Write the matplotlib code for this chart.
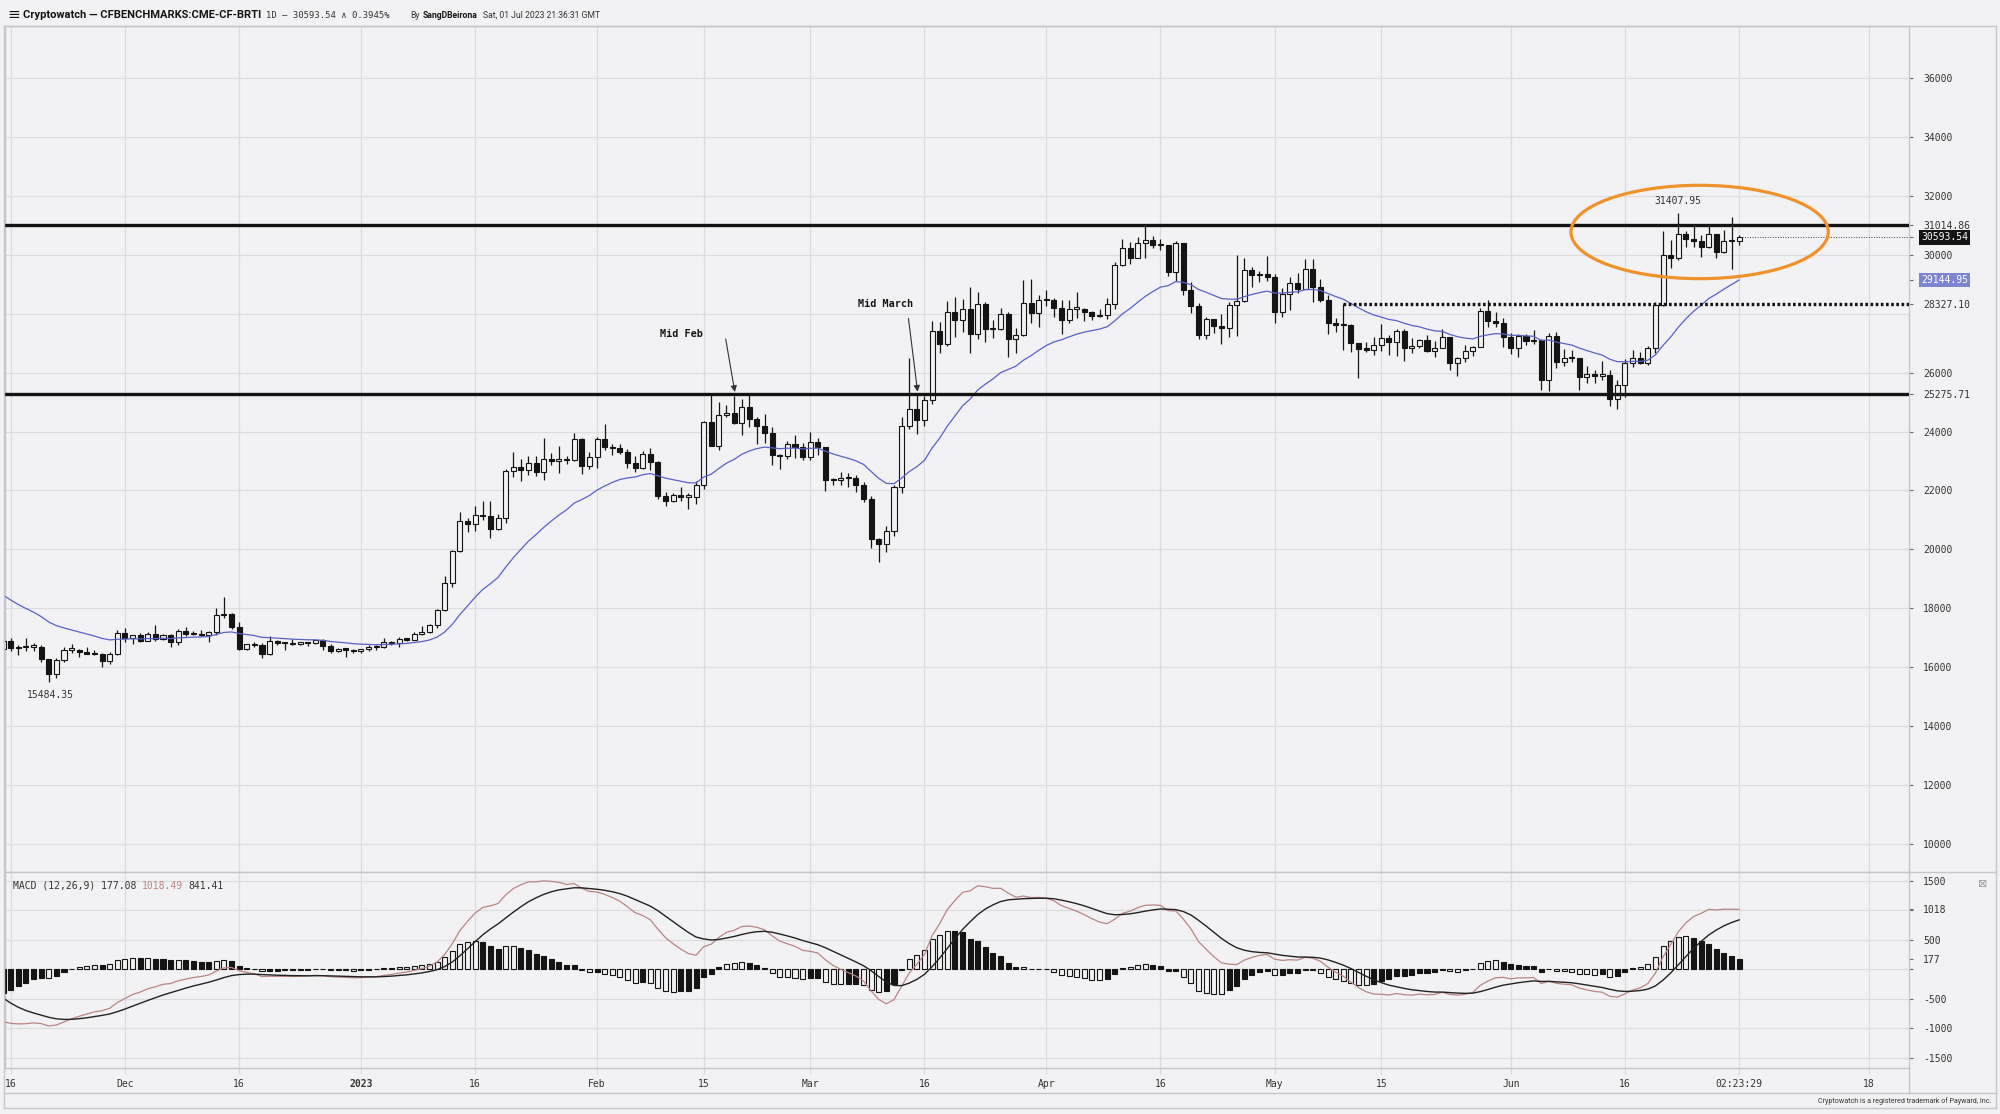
import numpy as np
import pandas as pd
import matplotlib
matplotlib.use('Agg')
import matplotlib.pyplot as plt
import matplotlib.transforms as mtransforms
from matplotlib.patches import Ellipse
from matplotlib.lines import Line2D

first_day = '2022-11-15'
last_day = '2023-07-01'

# daily candles, one row per month (Nov 15 .. Jul 1)
open_p = [
	16620, 16900, 16660, 16690, 16700, 16700, 16280, 15780, 16230, 16600, 16600, 16520, 16460, 16440, 16220, 16440,
	17160, 16980, 17090, 16890, 17110, 16970, 17090, 16840, 17230, 17130, 17130, 17090, 17210, 17780, 17810, 17360,
	16630, 16780, 16740, 16440, 16900, 16830, 16820, 16780, 16840, 16830, 16920, 16710, 16540, 16630, 16600,
	16540, 16620, 16680, 16670, 16850, 16830, 16950, 16940, 17120, 17180, 17440, 17940, 18850, 19930, 20950, 20870,
	21180, 21140, 20680, 21070, 22670, 22780, 22710, 22920, 22630, 23060, 23010, 23080, 23030, 23740, 22840,
	23130, 23730, 23490, 23430, 23320, 22930, 22760, 23250, 22960, 21800, 21630, 21860, 21790, 21790, 22200, 24330,
	23520, 24570, 24630, 24280, 24840, 24440, 24190, 23950, 23200, 23160, 23560, 23490,
	23130, 23650, 23470, 22360, 22350, 22430, 22410, 22200, 21720, 20360, 20190, 20630, 22130, 24200, 24750, 24380,
	25060, 27420, 26970, 28040, 27770, 28170, 27310, 28330, 27490, 27490, 28000, 27140, 27270, 28350, 28030,
	28480, 28470, 28200, 27800, 28170, 28170, 28040, 27920, 27950, 28330, 29650, 30240, 29890, 30400, 30490, 30320,
	30320, 29430, 30390, 28820, 28250, 27270, 27820, 27590, 27520, 28300, 28420, 29470, 29320, 29340,
	29230, 28070, 28670, 29030, 28850, 29530, 28900, 28450, 27690, 27630, 27620, 26990, 26800, 26780, 26930, 27190,
	27030, 27400, 26830, 26890, 27110, 26750, 26850, 27220, 26330, 26480, 26720, 26870, 28080, 27750, 27700,
	27220, 26820, 27250, 27070, 27120, 25760, 27240, 26350, 26500, 26480, 25850, 25940, 25900, 25920, 25120, 25580,
	26330, 26510, 26340, 26840, 28310, 30000, 29890, 30690, 30550, 30470, 30270, 30690, 30080, 30450,
	30480,
]
high_p = [
	17130, 17000, 16750, 17000, 16820, 16750, 16290, 16300, 16680, 16800, 16620, 16680, 16600, 16480, 16530, 17250,
	17320, 17100, 17160, 17200, 17420, 17110, 17140, 17300, 17360, 17230, 17260, 17240, 18000, 18390, 17850, 17530,
	16800, 16860, 16810, 17050, 16910, 16860, 16950, 16860, 16860, 16940, 16960, 16780, 16650, 16640, 16630,
	16630, 16770, 16760, 17000, 16880, 17040, 16960, 17180, 17390, 17480, 17990, 19100, 19990, 21260, 21050, 21460,
	21630, 21650, 21190, 22740, 23320, 23060, 23160, 23170, 23780, 23260, 23500, 23160, 23950, 23790, 23300,
	23800, 24250, 23590, 23570, 23420, 23160, 23350, 23450, 23000, 21950, 21900, 22100, 21900, 22310, 24370, 25250,
	24990, 24890, 25190, 25120, 25270, 24480, 24600, 24140, 23220, 23670, 23880, 23600,
	23980, 23780, 23480, 22420, 22620, 22580, 22540, 22270, 21820, 20370, 20790, 22180, 24500, 26500, 25270, 25200,
	27750, 27730, 28430, 28550, 28500, 28900, 28750, 28400, 27800, 28180, 28040, 27500, 29150, 29170, 28640,
	28800, 28530, 28480, 28450, 28750, 28180, 28100, 28170, 28530, 29770, 30550, 30420, 30600, 31000, 30620, 30550,
	30320, 30480, 30410, 29070, 28370, 27880, 27820, 28000, 28400, 30000, 29880, 29570, 29450, 29950,
	29330, 28880, 29260, 29370, 29840, 29840, 29180, 28650, 27840, 28327.10, 27640, 27000, 27050, 27200, 27660, 27260,
	27480, 27480, 27170, 27150, 27280, 27060, 27490, 27220, 26530, 26930, 26900, 28200, 28450, 28050, 27840,
	27340, 27300, 27300, 27450, 27140, 27360, 27380, 26800, 26780, 26500, 26210, 26080, 26400, 26080, 25750, 26460,
	26780, 26690, 26890, 28400, 30800, 30500, 31407.95, 30800, 31050, 30660, 31000, 30700, 30850, 31280,
	30660,
]
low_p = [
	16550, 16550, 16410, 16560, 16560, 16180, 15484.35, 15620, 16170, 16470, 16350, 16460, 16400, 16000, 16100, 16430,
	16870, 16790, 16870, 16880, 16880, 16910, 16690, 16740, 17070, 17090, 17070, 16870, 17080, 17660, 17280, 16580,
	16590, 16680, 16300, 16400, 16740, 16570, 16760, 16770, 16730, 16790, 16600, 16470, 16500, 16340, 16490,
	16490, 16550, 16600, 16660, 16750, 16680, 16900, 16910, 17100, 17150, 17320, 17910, 18720, 19900, 20600, 20620,
	20980, 20400, 20670, 20880, 22440, 22320, 22520, 22480, 22340, 22850, 22580, 22890, 23000, 22560, 22720,
	22770, 23380, 23200, 23250, 22760, 22630, 22740, 22680, 21700, 21460, 21600, 21630, 21370, 21530, 22050, 23520,
	23360, 24480, 24250, 23880, 24170, 23580, 23620, 22860, 22740, 23080, 23100, 23030,
	23050, 23210, 21980, 22180, 22200, 22100, 21930, 21600, 20050, 19570, 19900, 20440, 21900, 24100, 23900, 24200,
	24940, 26660, 26900, 27200, 27370, 26660, 27150, 27030, 27180, 27450, 26540, 26680, 27250, 27700, 27560,
	28250, 27880, 27300, 27680, 27840, 27760, 27800, 27880, 27820, 28170, 29620, 29700, 29880, 29900, 30220, 30170,
	29270, 29100, 28650, 28020, 27140, 27130, 27350, 26970, 27200, 27250, 28380, 28900, 29080, 29100,
	27670, 27900, 28130, 28690, 28840, 28400, 28380, 27320, 27380, 26780, 26710, 25800, 26700, 26600, 26730, 26600,
	26580, 26400, 26660, 26840, 26690, 26540, 26830, 26100, 25870, 26350, 26550, 26860, 27550, 27550, 26880,
	26620, 26520, 26920, 26960, 25420, 25370, 26140, 26230, 26350, 25400, 25650, 25650, 25750, 24850, 24780, 25170,
	26180, 26290, 26260, 26670, 28270, 29560, 29810, 30280, 30270, 29940, 30220, 29880, 30050, 29500,
	30330,
]
close_p = [
	16900, 16660, 16690, 16700, 16700, 16280, 15780, 16230, 16600, 16600, 16520, 16460, 16440, 16220, 16440, 17160,
	16980, 17090, 16890, 17110, 16970, 17090, 16840, 17230, 17130, 17130, 17090, 17210, 17780, 17810, 17360, 16630,
	16780, 16740, 16440, 16900, 16830, 16820, 16780, 16840, 16830, 16920, 16710, 16540, 16630, 16600, 16540,
	16620, 16680, 16670, 16850, 16830, 16950, 16940, 17120, 17180, 17440, 17940, 18850, 19930, 20950, 20870, 21180,
	21140, 20680, 21070, 22670, 22780, 22710, 22920, 22630, 23060, 23010, 23080, 23030, 23740, 22840, 23130,
	23730, 23490, 23430, 23320, 22930, 22760, 23250, 22960, 21800, 21630, 21860, 21790, 21790, 22200, 24330, 23520,
	24570, 24630, 24280, 24840, 24440, 24190, 23950, 23200, 23160, 23560, 23490, 23130,
	23650, 23470, 22360, 22350, 22430, 22410, 22200, 21720, 20360, 20190, 20630, 22130, 24200, 24750, 24380, 25060,
	27420, 26970, 28040, 27770, 28170, 27310, 28330, 27490, 27490, 28000, 27140, 27270, 28350, 28030, 28480,
	28470, 28200, 27800, 28170, 28170, 28040, 27920, 27950, 28330, 29650, 30240, 29890, 30400, 30490, 30320, 30320,
	29430, 30390, 28820, 28250, 27270, 27820, 27590, 27520, 28300, 28420, 29470, 29320, 29340, 29230,
	28070, 28670, 29030, 28850, 29530, 28900, 28450, 27690, 27630, 27620, 26990, 26800, 26780, 26930, 27190, 27030,
	27400, 26830, 26890, 27110, 26750, 26850, 27220, 26330, 26480, 26720, 26870, 28080, 27750, 27700, 27220,
	26820, 27250, 27070, 27120, 25760, 27240, 26350, 26500, 26480, 25850, 25940, 25900, 25920, 25120, 25580, 26330,
	26510, 26340, 26840, 28310, 30000, 29890, 30690, 30550, 30470, 30270, 30690, 30080, 30450, 30480,
	30593.54,
]

# indicator values at the first visible candle
ema20_start = 18450
ema12_start = 17835
ema26_start = 18720
signal_start = -483

resistance = 31014.86
support = 25275.71
breakout = 28327.10
breakout_from = '2023-05-10'
last_close = 30593.54
ema_last = 29144.95
range_high = 31407.95
range_low = 15484.35

tick_dates = ['2022-11-16', '2022-12-01', '2022-12-16', '2023-01-01', '2023-01-16', '2023-02-01', '2023-02-15',
			  '2023-03-01', '2023-03-16', '2023-04-01', '2023-04-16', '2023-05-01', '2023-05-15', '2023-06-01',
			  '2023-06-16', '2023-07-01', '2023-07-18']
tick_names = ['16', 'Dec', '16', '2023', '16', 'Feb', '15', 'Mar', '16', 'Apr', '16', 'May', '15', 'Jun', '16',
			  '02:23:29', '18']

price_grid = list(range(10000, 36001, 2000))
price_ticks = [10000, 12000, 14000, 16000, 18000, 20000, 22000, 24000, 26000, 30000, 32000, 34000, 36000]
macd_grid = [1500, 1000, 500, 0, -500, -1000, -1500]
macd_ticks = [1500, 1018.49, 1000, 500, 177.08, 0, -500, -1000, -1500]
macd_names = ['1500', '1018', '', '500', '177', '', '-500', '-1000', '-1500']

BG = '#f2f2f4'
GRID = '#dcdcdf'
EDGE = '#c6c6ca'
INK = '#141414'
BLUE = '#5861c6'
ROSE = '#b98583'
ORANGE = '#f0922c'

W, H = 2000, 1114
origin = pd.Timestamp('2023-01-01')


def day(s):
	return (pd.Timestamp(s) - origin).days


def fx(px):
	return px / W


def fy(py):
	return 1 - py / H


def box(x0, y0, x1, y1):
	return [fx(x0), fy(y1), (x1 - x0) / W, (y1 - y0) / H]


def ema(values, n, start):
	k = 2.0 / (n + 1)
	out = [start]
	for v in values[1:]:
		out.append(out[-1] + k * (v - out[-1]))
	return np.array(out)


def fig_line(fig, x0, y0, x1, y1):
	fig.add_artist(Line2D([fx(x0), fx(x1)], [fy(y0), fy(y1)], transform=fig.transFigure, color=EDGE, lw=1.0))


def main():
	plt.rcParams['font.family'] = ['DejaVu Sans Mono', 'DejaVu Sans']
	o = np.array(open_p, float)
	h = np.array(high_p, float)
	l = np.array(low_p, float)
	c = np.array(close_p, float)
	x = np.arange(len(c)) + day(first_day)
	assert len(o) == len(h) == len(l) == len(c) == day(last_day) - day(first_day) + 1

	ema20 = ema(c, 20, ema20_start)
	macd = ema(c, 12, ema12_start) - ema(c, 26, ema26_start)
	signal = ema(macd, 9, signal_start)
	hist = macd - signal

	fig = plt.figure(figsize=(20, 11.14), dpi=100, facecolor=BG)
	ax = fig.add_axes(box(5, 26, 1909, 872), facecolor=BG)
	mx = fig.add_axes(box(5, 872, 1909, 1068), facecolor=BG, sharex=ax)

	x0, x1 = -46.75, 203.3
	ax.set_xlim(x0, x1)
	ax.set_ylim(9048, 37765)
	mx.set_ylim(-1669.5, 1652.5)

	tdays = [day(d) for d in tick_dates]
	for a in (ax, mx):
		for t in tdays:
			a.axvline(t, color=GRID, lw=0.9, zorder=0)
		for s in a.spines.values():
			s.set_color(EDGE)
			s.set_linewidth(1.0)
	for p in price_grid:
		ax.axhline(p, color=GRID, lw=0.9, zorder=0)
	for p in macd_grid:
		mx.axhline(p, color=GRID, lw=0.9, zorder=0)

	# candles
	up = c >= o
	ax.vlines(x, l, h, color=INK, lw=0.9, zorder=3)
	body = np.maximum(np.abs(c - o), 40)
	ax.bar(x, body, bottom=np.minimum(o, c), width=0.66, color=np.where(up, BG, INK).tolist(),
		   edgecolor=INK, linewidth=0.8, zorder=4)
	ax.plot(x, ema20, color=BLUE, lw=0.9, zorder=5)

	ax.axhline(resistance, color=INK, lw=2.4, zorder=6)
	ax.axhline(support, color=INK, lw=2.4, zorder=6)
	ax.hlines(breakout, day(breakout_from), x1, color=INK, lw=2.4, linestyles=(0, (0.8, 0.75)), zorder=6)
	ax.hlines(last_close, x[-1] + 0.4, x1, color='#444', lw=0.7, linestyles=(0, (1, 1.6)), zorder=6)

	ax.add_patch(Ellipse((175.8, 30773), 33.8, 3170, fill=False, ec=ORANGE, lw=2.3, zorder=7))

	ax.text(day('2023-06-23'), range_high + 400, '31407.95', ha='center', va='center', fontsize=7, color='#333')
	ax.text(day('2022-11-21') + 0.2, range_low - 430, '15484.35', ha='center', va='center', fontsize=7, color='#333')

	ax.text(day('2023-02-12') + 0.15, 27310, 'Mid Feb', ha='center', va='center', fontsize=7.3, fontweight='bold', color=INK)
	ax.annotate('', xy=(day('2023-02-19') + 0.1, 25340), xytext=(day('2023-02-17') + 0.9, 27140),
				arrowprops=dict(arrowstyle='-|>', color='#333', lw=0.8, shrinkA=0, shrinkB=0, mutation_scale=9))
	ax.text(day('2023-03-11') - 0.1, 28330, 'Mid March', ha='center', va='center', fontsize=7.3, fontweight='bold', color=INK)
	ax.annotate('', xy=(day('2023-03-15') + 0.1, 25350), xytext=(day('2023-03-13') + 0.9, 27840),
				arrowprops=dict(arrowstyle='-|>', color='#333', lw=0.8, shrinkA=0, shrinkB=0, mutation_scale=9))

	# price axis
	ax.yaxis.tick_right()
	yt = price_ticks + [resistance, breakout, support, last_close, ema_last]
	yn = [str(p) for p in price_ticks] + ['%.2f' % resistance, '%.2f' % breakout, '%.2f' % support, '', '']
	ax.set_yticks(yt, yn)
	ax.tick_params(axis='y', length=3, width=0.8, color='#666', labelsize=7, labelcolor='#333', pad=7)
	ax.yaxis.get_major_ticks()[-1].tick2line.set_color(BLUE)
	ax.tick_params(axis='x', bottom=False, labelbottom=False)

	trans = mtransforms.blended_transform_factory(ax.transAxes, ax.transData)
	lx = (1921 - 5) / (1909 - 5)
	ax.text(lx, last_close, '%.2f' % last_close, transform=trans, ha='left', va='center', fontsize=7, color='white',
			clip_on=False, bbox=dict(boxstyle='square,pad=0.25', fc=INK, ec='none'))
	ax.text(lx, ema_last, '%.2f' % ema_last, transform=trans, ha='left', va='center', fontsize=7, color='white',
			clip_on=False, bbox=dict(boxstyle='square,pad=0.25', fc='#7d85cf', ec='none'))

	# macd panel
	grow = np.abs(hist) > np.abs(np.r_[np.inf, hist[:-1]])
	mx.bar(x, hist, width=0.66, color=np.where(grow, BG, INK).tolist(), edgecolor=INK, linewidth=0.8, zorder=3)
	mx.plot(x, macd, color=ROSE, lw=0.9, zorder=4)
	mx.plot(x, signal, color='#222', lw=1.0, zorder=4)

	mx.yaxis.tick_right()
	mx.set_yticks(macd_ticks, macd_names)
	mx.tick_params(axis='y', length=3, width=0.8, color='#666', labelsize=7, labelcolor='#333', pad=7)
	mx.yaxis.get_major_ticks()[1].tick2line.set_color('#c0504d')

	mx.set_xticks(tdays, tick_names)
	mx.tick_params(axis='x', length=4, width=0.9, color=GRID, labelsize=7, labelcolor='#333', pad=4)
	for lab in mx.get_xticklabels():
		if lab.get_text() == '2023':
			lab.set_fontweight('bold')

	fig.text(fx(13), fy(886), 'MACD (12,26,9) 177.08', fontsize=7, color='#333', va='center')
	fig.text(fx(142), fy(886), '1018.49', fontsize=7, color=ROSE, va='center')
	fig.text(fx(188.5), fy(886), '841.41', fontsize=7, color='#333', va='center')
	fig.text(fx(1983), fy(884), '\u22a0', fontsize=8, color='#999', ha='center', va='center', family='DejaVu Sans')

	# header
	fig.text(fx(7), fy(14), '\u2261', fontsize=11, color=INK, va='center', family='DejaVu Sans')
	fig.text(fx(23), fy(15), 'Cryptowatch \u2014 CFBENCHMARKS:CME-CF-BRTI', fontsize=8, fontweight='bold',
			 color=INK, va='center', family=['Roboto', 'DejaVu Sans'])
	fig.text(fx(266), fy(15), '1D \u2014 30593.54 \u2227 0.3945%', fontsize=6.4, color='#333', va='center')
	fig.text(fx(410), fy(15), 'By', fontsize=6.2, color='#333', va='center', family=['Roboto', 'DejaVu Sans'])
	fig.text(fx(423), fy(15), 'SangDBeirona', fontsize=6.2, fontweight='bold', color=INK, va='center',
			 family=['Roboto', 'DejaVu Sans'])
	fig.text(fx(483), fy(15), 'Sat, 01 Jul 2023 21:36:31 GMT', fontsize=6.2, color='#333', va='center',
			 family=['Roboto', 'DejaVu Sans'])

	fig.text(fx(1991), fy(1101), 'Cryptowatch is a registered trademark of Payward, Inc.', fontsize=5.1,
			 color='#333', ha='right', va='center', family=['Roboto', 'DejaVu Sans'])

	# outer frame
	fig_line(fig, 4, 26, 1996, 26)
	fig_line(fig, 4, 26, 4, 1108)
	fig_line(fig, 1996, 26, 1996, 1108)
	fig_line(fig, 4, 1108, 1996, 1108)
	fig_line(fig, 4, 1093, 1996, 1093)
	fig_line(fig, 1909, 1068, 1909, 1093)
	fig_line(fig, 1909, 872, 1996, 872)

	fig.savefig('out.png', dpi=100, facecolor=BG)


if __name__ == '__main__':
	main()
